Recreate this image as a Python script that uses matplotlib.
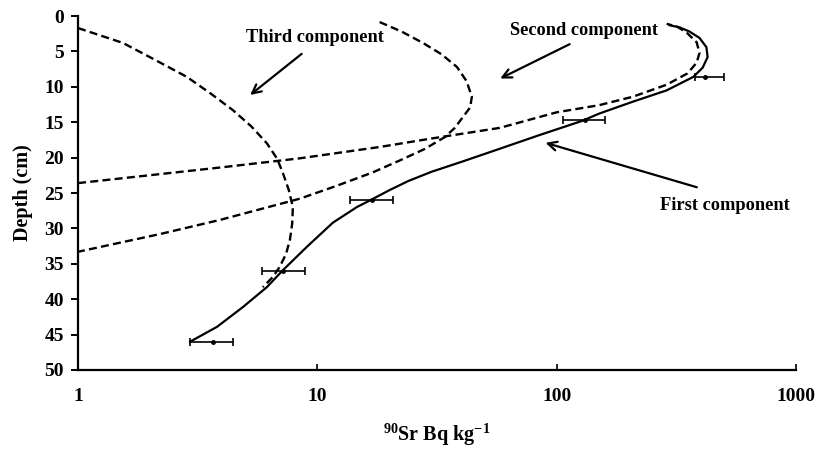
import matplotlib
matplotlib.use("Agg")
import matplotlib.pyplot as plt

plt.rcParams["font.family"] = ["Liberation Serif", "DejaVu Serif"]
plt.rcParams["font.weight"] = "bold"
plt.rcParams["mathtext.fontset"] = "custom"
plt.rcParams["mathtext.rm"] = "Liberation Serif:bold"
plt.rcParams["mathtext.bf"] = "Liberation Serif:bold"
plt.rcParams["mathtext.default"] = "bf"

# --- measured points (Bq/kg vs depth cm) with horizontal error bars ---------
pt_depth = [8.6, 14.7, 26.0, 36.0, 46.0]
pt_value = [415, 131, 16.9, 7.2, 3.66]
pt_low = [377, 106, 13.7, 5.87, 2.94]
pt_high = [498, 159, 20.7, 8.87, 4.44]

# --- fitted total profile (solid) ------------------------------------------
fit_x = [2.94, 3.81, 4.89, 6.15, 7.18, 9.04, 11.6, 14.6, 16.9, 20, 24, 30,
         40, 55, 85, 128, 150, 208, 288, 372, 407, 427, 422, 395, 359, 326, 296]
fit_depth = [46.0, 43.9, 41.1, 38.3, 35.9, 32.6, 29.2, 27.0, 25.9, 24.6, 23.3,
             22.0, 20.6, 19.0, 16.8, 14.8, 13.8, 12.1, 10.5, 8.6, 7.3, 5.8,
             4.4, 3.1, 2.2, 1.6, 1.3]

# --- first component (dashed) ----------------------------------------------
c1_x = [1.0, 3.92, 8.45, 18.2, 30, 57.8, 100, 150, 208, 288, 352, 384, 395,
        384, 348, 318, 288]
c1_depth = [23.6, 21.4, 20.1, 18.5, 17.3, 15.8, 13.6, 12.6, 11.4, 9.7, 8.1,
            6.6, 5.2, 3.7, 2.3, 1.5, 1.1]

# --- second component (dashed) ---------------------------------------------
c2_x = [18.2, 22.5, 27.6, 33, 38.3, 42, 44.2, 43.5, 40.5, 37.5, 34.1, 28,
        22.1, 17, 12, 8.45, 3.92, 2.2, 1.0]
c2_depth = [0.85, 2.2, 3.8, 5.4, 7.2, 9.2, 11.4, 12.9, 14.3, 15.8, 17.1, 18.8,
            20.4, 22.1, 24.0, 25.8, 28.8, 30.8, 33.3]

# --- third component (dashed) ----------------------------------------------
c3_x = [1.0, 1.54, 2.1, 2.85, 3.6, 4.44, 5.3, 6.16, 6.8, 7.18, 7.6, 7.9, 7.85,
        7.68, 7.4, 6.97, 6.5, 5.92]
c3_depth = [1.7, 3.8, 6.2, 8.6, 11.0, 13.3, 15.6, 18.0, 20.2, 22.2, 24.6, 27.0,
            29.3, 31.6, 33.6, 35.4, 36.9, 38.3]

fig = plt.figure(figsize=(8.16, 4.5), dpi=100)
ax = fig.add_axes([0.0956, 0.1778, 0.88, 0.7866])

dash = (3.4, 1.8)
ax.plot(c1_x, c1_depth, "--", color="black", lw=1.7, dashes=dash)
ax.plot(c2_x, c2_depth, "--", color="black", lw=1.7, dashes=dash)
ax.plot(c3_x, c3_depth, "--", color="black", lw=1.7, dashes=dash)
ax.plot(fit_x, fit_depth, "-", color="black", lw=1.6)

xerr = [[v - lo for v, lo in zip(pt_value, pt_low)],
        [hi - v for v, hi in zip(pt_value, pt_high)]]
ax.errorbar(pt_value, pt_depth, xerr=xerr, fmt="o", color="black", ms=2.5,
            elinewidth=1.2, capsize=3, capthick=1.2)

ax.set_xscale("log")
ax.set_xlim(1, 1000)
ax.set_ylim(50, 0)
ax.set_yticks(range(0, 51, 5))
ax.set_xticks([1, 10, 100, 1000])
ax.set_xticklabels(["1", "10", "100", "1000"])
ax.minorticks_off()

for s in ["top", "right"]:
    ax.spines[s].set_visible(False)
for s in ["left", "bottom"]:
    ax.spines[s].set_linewidth(1.6)
ax.tick_params(axis="y", direction="out", length=5, width=1.4, labelsize=14, pad=5)
ax.tick_params(axis="x", direction="in", length=4, width=1.2, labelsize=14, pad=13)

ax.set_ylabel("Depth (cm)", fontsize=14.5, fontweight="bold", labelpad=8)
ax.set_xlabel(r"$^{90}$Sr Bq kg$^{-1}$", fontsize=14.5, fontweight="bold",
              labelpad=12)

arrow = dict(arrowstyle="->", color="black", lw=1.6, mutation_scale=16)
txt = dict(fontsize=13.2, fontweight="bold", ha="center", va="center")
ax.annotate("", xy=(5.13, 11.4), xytext=(8.78, 5.1), arrowprops=arrow)
ax.text(9.77, 3.0, "Third component", **txt)
ax.annotate("", xy=(56.7, 9.0), xytext=(116, 3.8), arrowprops=arrow)
ax.text(130, 2.0, "Second component", **txt)
ax.annotate("", xy=(87.5, 17.8), xytext=(395, 24.3), arrowprops=arrow)
ax.text(503, 26.7, "First component", **txt)

fig.savefig("out.png", dpi=100)
